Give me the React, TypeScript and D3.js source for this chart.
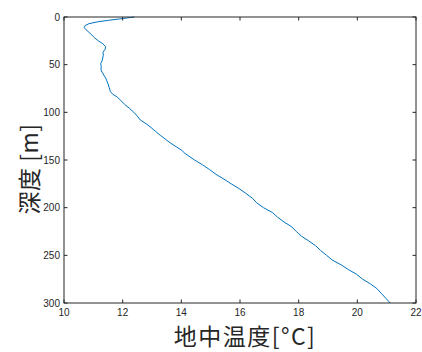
import React from "react";
import * as d3 from "d3";

const depths = [0, 1, 2, 3.5, 5, 7, 9, 11, 13, 16, 19, 22, 25, 28, 31, 34, 37, 40, 43, 46, 49, 52, 55, 58, 61, 64, 67, 70, 74, 78, 81, 84, 88, 92, 96, 100, 104, 108, 112, 116, 120, 124, 128, 132, 136, 140, 143, 146, 150, 155, 160, 165, 170, 175, 180, 185, 190, 195, 200, 205, 210, 215, 220, 225, 230, 235, 240, 245, 250, 255, 260, 265, 270, 275, 280, 285, 290, 295, 300];
const temps = [12.40, 12.15, 11.9, 11.51, 11.15, 10.85, 10.72, 10.69, 10.74, 10.85, 10.95, 11.05, 11.17, 11.32, 11.42, 11.40, 11.33, 11.34, 11.32, 11.30, 11.25, 11.27, 11.26, 11.30, 11.36, 11.42, 11.46, 11.50, 11.54, 11.58, 11.66, 11.82, 11.95, 12.08, 12.24, 12.38, 12.50, 12.60, 12.80, 12.97, 13.12, 13.28, 13.45, 13.62, 13.82, 14.02, 14.12, 14.26, 14.45, 14.72, 14.96, 15.18, 15.45, 15.70, 15.97, 16.20, 16.42, 16.57, 16.80, 17.10, 17.28, 17.50, 17.76, 17.92, 18.10, 18.35, 18.58, 18.75, 18.95, 19.15, 19.45, 19.70, 19.98, 20.18, 20.45, 20.67, 20.82, 20.97, 21.12];

const xTicks = [10, 12, 14, 16, 18, 20, 22];
const yTicks = [0, 50, 100, 150, 200, 250, 300];
const xLabel = "地中温度[°C]";
const yLabel = "深度 [m]";

const W = 422, H = 352;
const L = 64, R = 416, T = 17, B = 303;
const axisColor = "#262626";
const lineColor = "#0072BD";
const tickLen = 3.5;

export default function App() {
  const x = d3.scaleLinear().domain([10, 22]).range([L, R]);
  const y = d3.scaleLinear().domain([0, 300]).range([T, B]);
  const pts: [number, number][] = depths.map((d, i) => [temps[i], d]);
  const line = d3.line<[number, number]>().x(p => x(p[0])).y(p => y(p[1]));
  const tickFont = { fontFamily: "'Liberation Sans', Arial, sans-serif", fontSize: 10, fill: axisColor };
  const labelFont = { fontFamily: "'Noto Sans CJK JP', sans-serif", fontSize: 23, fill: axisColor };
  return (
    <svg width={W} height={H} style={{ position: "absolute", left: 0, top: 0, background: "#fff" }}>
      <rect x={0} y={0} width={W} height={H} fill="#fff" />
      <path d={line(pts) || ""} fill="none" stroke={lineColor} strokeWidth={1} />
      <rect x={L} y={T} width={R - L} height={B - T} fill="none" stroke={axisColor} strokeWidth={1} />
      {xTicks.map(t => (
        <g key={"x" + t}>
          <line x1={x(t)} x2={x(t)} y1={B} y2={B - tickLen} stroke={axisColor} />
          <line x1={x(t)} x2={x(t)} y1={T} y2={T + tickLen} stroke={axisColor} />
          <text x={x(t)} y={B + 13} textAnchor="middle" {...tickFont}>{t}</text>
        </g>
      ))}
      {yTicks.map(t => (
        <g key={"y" + t}>
          <line x1={L} x2={L + tickLen} y1={y(t)} y2={y(t)} stroke={axisColor} />
          <line x1={R} x2={R - tickLen} y1={y(t)} y2={y(t)} stroke={axisColor} />
          <text x={L - 4} y={y(t)} dy="0.35em" textAnchor="end" {...tickFont}>{t}</text>
        </g>
      ))}
      <text x={245} y={345} textAnchor="middle" letterSpacing={1.5} {...labelFont}>{xLabel}</text>
      <text transform={`translate(38,169) rotate(-90)`} textAnchor="middle" letterSpacing={0.5} {...labelFont}>{yLabel}</text>
    </svg>
  );
}
